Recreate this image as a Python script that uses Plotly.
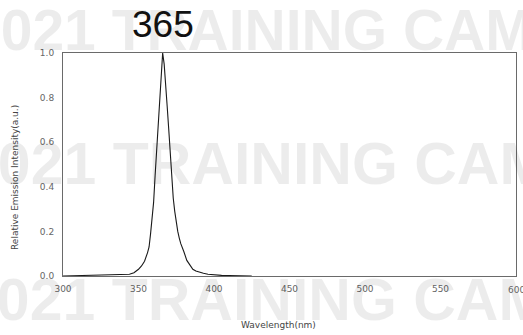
import plotly.graph_objects as go

# Spectrum data (nm, relative intensity)
wavelength = [300, 310, 320, 330, 335, 340, 344, 347, 350, 352, 354, 356, 357, 358, 359,
              360, 361, 362, 363, 364, 365, 366, 367, 368, 369, 370, 371, 372, 373, 374,
              375, 376, 377, 378, 380, 382, 384, 386, 388, 390, 393, 396, 400, 405, 410,
              415, 420, 425]
intensity = [0.0, 0.002, 0.002, 0.003, 0.004, 0.005, 0.008, 0.015, 0.03, 0.045, 0.066, 0.105, 0.13, 0.19, 0.25,
             0.33, 0.45, 0.56, 0.66, 0.78, 0.92, 1.0, 0.95, 0.87, 0.76, 0.66, 0.54, 0.44, 0.35, 0.29,
             0.24, 0.20, 0.17, 0.145, 0.11, 0.07, 0.05, 0.03, 0.022, 0.017, 0.012, 0.008, 0.005, 0.003, 0.002,
             0.002, 0.001, 0.0]

x_ticks = [300, 350, 400, 450, 500, 550, 600]
y_ticks = [0.0, 0.2, 0.4, 0.6, 0.8, 1.0]
peak_label = "365"
x_title = "Wavelength(nm)"
y_title = "Relative Emission Intensity(a.u.)"
watermark = "2021 TRAINING CAMP"

W, H = 523, 335
L, R, T, B = 63, 7, 53, 59
pw, ph = W - L - R, H - T - B

def px(x):
    return (x - L) / pw

def py(y):
    return (H - B - y) / ph

fig = go.Figure()
fig.add_trace(go.Scatter(x=wavelength, y=intensity, mode="lines",
                         line=dict(color="#1a1a1a", width=1.1), showlegend=False,
                         cliponaxis=False))

axis_font = dict(family="DejaVu Sans", size=9, color="#666666")
# the last tick label (600) overflows the page edge; it is drawn as an annotation below
fig.update_xaxes(range=[300, 600], tickvals=x_ticks[:-1], ticktext=[str(v) for v in x_ticks[:-1]],
                 showgrid=False, zeroline=False, showline=True, mirror=True,
                 linecolor="#6a6a6a", linewidth=1, ticks="", tickfont=axis_font,
                 ticklabelstandoff=4)
fig.update_yaxes(range=[0, 1], tickvals=y_ticks, ticktext=[f"{v:.1f}" for v in y_ticks],
                 showgrid=False, zeroline=False, showline=True, mirror=True,
                 linecolor="#6a6a6a", linewidth=1, ticks="", tickfont=axis_font,
                 ticklabelstandoff=6)

annotations = []
# watermark rows
for x0, ycen, size in [(-33, 30, 57), (-37, 164, 59), (-38, 300, 59)]:
    annotations.append(dict(x=px(x0), y=py(ycen), xref="paper", yref="paper",
                            xanchor="left", yanchor="middle", text=watermark, showarrow=False,
                            font=dict(family="Liberation Sans", size=size, color="rgba(0,0,0,0.075)",
                                      weight="bold")))
annotations.append(dict(x=px(163), y=py(24), xref="paper", yref="paper",
                        xanchor="center", yanchor="middle", text=peak_label, showarrow=False,
                        font=dict(family="Liberation Sans", size=37, color="#111111")))
annotations.append(dict(x=x_ticks[-1], y=py(290), xref="x", yref="paper",
                        xanchor="center", yanchor="middle", text=str(x_ticks[-1]), showarrow=False,
                        font=axis_font))
annotations.append(dict(x=px(278), y=py(325), xref="paper", yref="paper",
                        xanchor="center", yanchor="middle", text=x_title, showarrow=False,
                        font=dict(family="DejaVu Sans", size=9, color="#444444")))
annotations.append(dict(x=px(15), y=py(178), xref="paper", yref="paper",
                        xanchor="center", yanchor="middle", text=y_title, showarrow=False,
                        textangle=-90,
                        font=dict(family="DejaVu Sans", size=9, color="#444444")))

fig.update_layout(width=W, height=H, margin=dict(l=L, r=R, t=T, b=B),
                  paper_bgcolor="white", plot_bgcolor="white",
                  annotations=annotations)

fig.write_html("out.html")
